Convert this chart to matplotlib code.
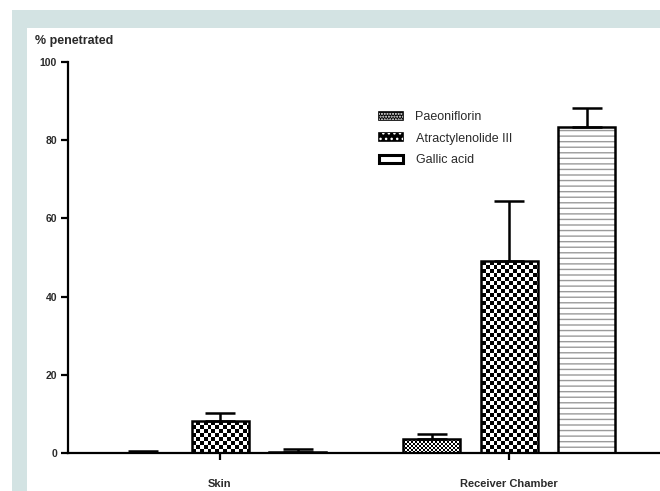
import numpy as np
import matplotlib
matplotlib.use("Agg")
import matplotlib.pyplot as plt
from matplotlib.patches import Patch, Rectangle
from matplotlib.legend_handler import HandlerTuple

# values (% penetrated, mean and upper error)
groups = ["Skin", "Receiver Chamber"]
compounds = ["Paeoniflorin", "Atractylenolide III", "Gallic acid"]
paeoniflorin = [0.1, 3.7]
paeoniflorin_err = [0.3, 1.2]
atractylenolide = [8.3, 49.2]
atractylenolide_err = [1.9, 15.3]
gallic = [0.3, 83.5]
gallic_err = [0.7, 4.8]

plt.rcParams['font.family'] = ['Liberation Sans', 'DejaVu Sans']

fig = plt.figure(figsize=(6.6, 4.91), dpi=100)
# teal frame behind the chart
fig.patches.append(Rectangle((12/660, 0), 1, 1 - 10/491, transform=fig.transFigure,
                             facecolor="#d3e3e3", edgecolor="none", zorder=-2))
fig.patches.append(Rectangle((27/660, 0), 1, 1 - 28/491, transform=fig.transFigure,
                             facecolor="white", edgecolor="none", zorder=-1))

ax = fig.add_axes([68/660, 1 - 453/491, 592/660, 391/491])
ax.set_zorder(1)
ax.patch.set_alpha(0)

x = np.arange(len(groups))
off = 0.268
w = 0.197
series = [paeoniflorin, atractylenolide, gallic]
errs = [paeoniflorin_err, atractylenolide_err, gallic_err]


def checker(square):
    ny, nx = int(391 / square) + 1, int(592 / square) + 1
    j, i = np.indices((ny, nx))
    return (i + j) % 2


patterns = [checker(2), checker(4), None]
for k, (vals, err) in enumerate(zip(series, errs)):
    pos = x + (k - 1) * off
    if patterns[k] is None:
        ax.bar(pos, vals, w, facecolor="white", edgecolor="#9a9a9a", hatch="---",
               linewidth=0, zorder=2)
    else:
        bars = ax.bar(pos, vals, w, facecolor="white", edgecolor="none", zorder=2)
        for b in bars:
            im = ax.imshow(patterns[k], cmap="gray", interpolation="nearest",
                           extent=(0, 1, 0, 1), transform=ax.transAxes,
                           aspect="auto", zorder=2.5)
            im.set_clip_path(b)
    ax.bar(pos, vals, w, facecolor="none", edgecolor="black", linewidth=1.8, zorder=3)
    ax.errorbar(pos, vals, yerr=[np.zeros(len(vals)), err], fmt="none",
                ecolor="black", elinewidth=1.8, capsize=10.5, capthick=1.8, zorder=3)

ax.set_xlim(-0.526, 1.522)
ax.set_ylim(0, 100)
ax.set_yticks([0, 20, 40, 60, 80, 100])
ax.set_xticks(x)
ax.set_xticklabels(groups)
for s in ["top", "right"]:
    ax.spines[s].set_visible(False)
ax.spines["left"].set_linewidth(1.6)
ax.spines["bottom"].set_linewidth(1.6)
ax.tick_params(axis="y", length=5, width=1.6, labelsize=7.5, pad=3, colors="black")
ax.tick_params(axis="x", length=5, width=1.6, labelsize=8, pad=14, colors="black")
for t in ax.get_xticklabels() + ax.get_yticklabels():
    t.set_fontweight("bold")
    t.set_color("#2a2a2a")

fig.text(35/660, 1 - 41/491, "% penetrated", fontsize=9, fontweight="bold",
         color="#2a2a2a", va="center", ha="left")

handles = [(Patch(facecolor="black", edgecolor="black", linewidth=1.2),
            Patch(facecolor="none", edgecolor="white", hatch="......", linewidth=0)),
           (Patch(facecolor="black", edgecolor="black", linewidth=1.2),
            Patch(facecolor="none", edgecolor="white", hatch="...", linewidth=0)),
           Patch(facecolor="white", edgecolor="black", linewidth=2.2)]
ax.legend(handles, compounds, loc="upper left", bbox_to_anchor=(300/592, 1 - 38/391),
          frameon=False, fontsize=9, handlelength=1.9, handleheight=0.6,
          handletextpad=1.0, labelspacing=0.75, labelcolor="#2a2a2a",
          handler_map={tuple: HandlerTuple(ndivide=1, pad=0)})

fig.savefig("out.png", dpi=100)
